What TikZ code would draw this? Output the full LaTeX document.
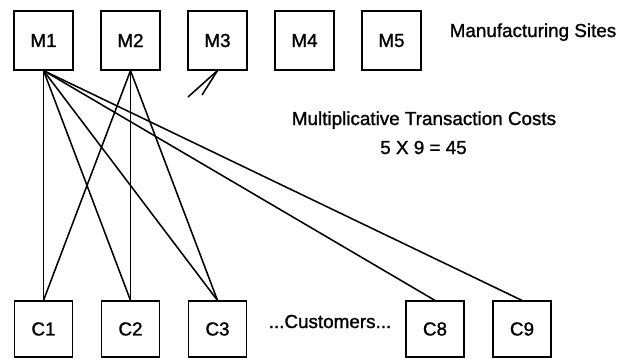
\documentclass[tikz,border=0pt]{standalone}
\usepackage{fontspec}
\setmainfont{Liberation Sans}[BoldFont = {Liberation Sans},
  BoldFeatures = {FakeBold = 1.2}]

\begin{document}
\begin{tikzpicture}[x = .025cm, y = .025cm,
    site/.style = {draw, line width = .8pt, minimum width = 1.475cm,
      minimum height = 1.475cm, inner sep = 0pt},
    cust/.style = {draw, line width = .8pt, minimum width = 1.45cm,
      minimum height = 1.4cm, inner sep = 0pt},
    link/.style = {line width = 1.1pt},
    lbl/.style = {anchor = base, inner sep = 0pt},
    every node/.style = {font = \fontsize{13.4}{16}\selectfont\bfseries}]
    \useasboundingbox (0,0) rectangle (620,358);
    % manufacturing sites
    \foreach \i in {1,...,5} {
      \node [site] (M\i) at ({43.5 + 87*(\i-1)}, 317.5) {M\i};
    }
    % customers
    \foreach \i/\x in {1/43.5, 2/130.5, 3/217.5, 8/435, 9/522} {
      \node [cust] (C\i) at (\x, 29) {C\i};
    }
    \node [lbl] (sites) at (533, 321) {Manufacturing Sites};
    \node [lbl] (costs) at (424, 233) {Multiplicative Transaction Costs};
    \node [lbl] (count) at (423.5, 204) {5 X 9 = 45};
    \node [lbl] (dots) at (330, 30) {...Customers...};
    % links
    \foreach \c in {1,2,3,8,9} {
      \draw [link] (M1.south) -- (C\c.north);
    }
    \foreach \c in {1,2,3} {
      \draw [link] (M2.south) -- (C\c.north);
    }
    \coordinate (s1) at (188, 261);
    \coordinate (s2) at (202, 263);
    \draw [link] (M3.south) -- (s1);
    \draw [link] (M3.south) -- (s2);
  \end{tikzpicture}
\end{document}
